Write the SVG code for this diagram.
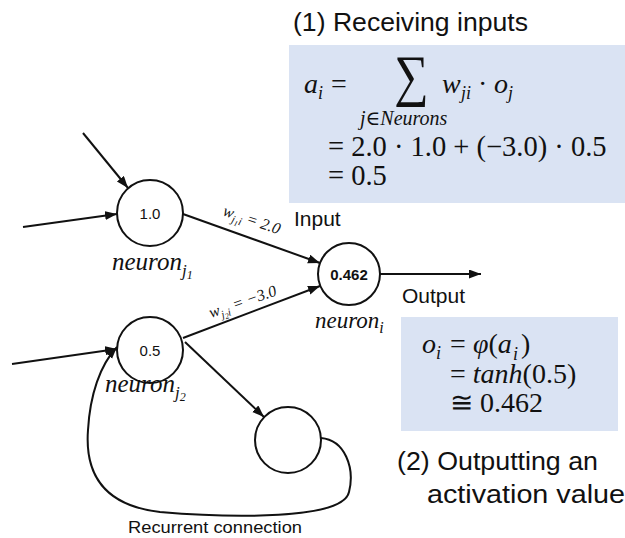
<svg xmlns="http://www.w3.org/2000/svg" width="625" height="538" viewBox="0 0 625 538">
  <style>
    .sans { font-family: "Liberation Sans", Arial, sans-serif; fill: #111; }
    .math { font-family: "Liberation Serif", "DejaVu Serif", serif; fill: #111; }
    .it { font-style: italic; }
    .box { fill: #dae3f3; }
    .node { fill: #fff; stroke: #111; stroke-width: 2; }
    .edge { fill: none; stroke: #111; stroke-width: 2; }
  </style>
  <defs>
    <marker id="arrow" markerUnits="userSpaceOnUse" markerWidth="13" markerHeight="10" refX="12" refY="4.5" orient="auto">
      <path d="M0,0 L12,4.5 L0,9 Z" fill="#111"/>
    </marker>
  </defs>

  <rect width="625" height="538" fill="#fff"/>

  <!-- formula panels -->
  <g id="receiving-panel">
    <rect class="box" x="289" y="45" width="336" height="158"/>
    <text class="sans" x="293" y="31" font-size="25" textLength="235" lengthAdjust="spacingAndGlyphs">(1) Receiving inputs</text>
    <text class="math it" font-size="28" x="304" y="93">a</text>
    <text class="math it" font-size="18" x="318" y="99">i</text>
    <text class="math" font-size="28" x="331" y="93">=</text>
    <text class="math" font-size="44" transform="translate(394,95) scale(1.1,1.3)">∑</text>
    <text class="math it" font-size="28" x="442" y="93">w</text>
    <text class="math it" font-size="18" x="461" y="99">ji</text>
    <text class="math" font-size="28" x="478" y="93">·</text>
    <text class="math it" font-size="28" x="494" y="93">o</text>
    <text class="math it" font-size="18" x="508" y="99">j</text>
    <text class="math it" font-size="20" x="360" y="125">j∈Neurons</text>
    <text class="math" font-size="28.5" x="328" y="156">= 2.0 · 1.0 + (−3.0) · 0.5</text>
    <text class="math" font-size="28.5" x="328" y="185">= 0.5</text>
  </g>

  <g id="output-panel">
    <rect class="box" x="401" y="317" width="217" height="114"/>
    <text class="math it" font-size="28" x="422" y="353">o</text>
    <text class="math it" font-size="18" x="436" y="359">i</text>
    <text class="math" font-size="28" x="450" y="353">=</text>
    <text class="math" font-size="28" x="473" y="353"><tspan class="it">φ</tspan>(<tspan class="it">a</tspan></text>
    <text class="math it" font-size="18" x="513" y="360">i</text>
    <text class="math" font-size="28" x="521" y="353">)</text>
    <text class="math" font-size="28" x="450" y="383"><tspan>= </tspan><tspan class="it">tanh</tspan><tspan>(0.5)</tspan></text>
    <text class="math" font-size="28" x="450" y="412">≅ 0.462</text>
    <text class="sans" x="397" y="470" font-size="25" textLength="201" lengthAdjust="spacingAndGlyphs">(2) Outputting an</text>
    <text class="sans" x="427" y="503" font-size="25" textLength="198" lengthAdjust="spacingAndGlyphs">activation value</text>
  </g>

  <!-- connectors -->
  <g id="connectors">
    <line class="edge" x1="83" y1="133" x2="128" y2="188" marker-end="url(#arrow)"/>
    <line class="edge" x1="23" y1="227" x2="117" y2="214" marker-end="url(#arrow)"/>
    <line class="edge" x1="12" y1="364" x2="117" y2="349" marker-end="url(#arrow)"/>
    <line class="edge" x1="183" y1="214" x2="320" y2="263" marker-end="url(#arrow)"/>
    <line class="edge" x1="183" y1="338" x2="320" y2="286" marker-end="url(#arrow)"/>
    <line class="edge" x1="185" y1="342" x2="264" y2="417" marker-end="url(#arrow)"/>
    <line class="edge" x1="380" y1="274" x2="481" y2="274" marker-end="url(#arrow)"/>
    <path class="edge" d="M321,438 C345,440 355,468 349,492 C343,520 230,518 160,512 C100,505 85,470 88,430 C90,395 100,365 117,347" marker-end="url(#arrow)"/>
    <text class="math it" font-size="16" transform="translate(222,215) rotate(19)">w<tspan font-size="11" dy="4">j</tspan><tspan font-size="8" dy="2">1</tspan><tspan font-size="11" dy="-2">i</tspan><tspan dy="-4"> = 2.0</tspan></text>
    <text class="math it" font-size="16" transform="translate(211,318) rotate(-19)">w<tspan font-size="11" dy="4">j</tspan><tspan font-size="8" dy="2">2</tspan><tspan font-size="11" dy="-2">i</tspan><tspan dy="-4"> = −3.0</tspan></text>
    <text class="sans" x="294" y="226" font-size="21">Input</text>
    <text class="sans" x="402" y="303" font-size="21">Output</text>
    <text class="sans" x="128" y="533" font-size="17" textLength="174" lengthAdjust="spacingAndGlyphs">Recurrent connection</text>
  </g>

  <!-- neurons -->
  <g id="neuron-j1">
    <circle class="node" cx="150" cy="213" r="33"/>
    <text class="sans" x="150" y="219" font-size="15" text-anchor="middle">1.0</text>
    <text class="math it" font-size="25" x="112" y="270">neuron<tspan font-size="17" dy="6">j</tspan><tspan font-size="12" dy="3">1</tspan></text>
  </g>
  <g id="neuron-j2">
    <circle class="node" cx="150" cy="350" r="33"/>
    <text class="sans" x="150" y="356" font-size="15" text-anchor="middle">0.5</text>
    <text class="math it" font-size="25" x="105" y="392">neuron<tspan font-size="17" dy="6">j</tspan><tspan font-size="12" dy="3">2</tspan></text>
  </g>
  <g id="neuron-i">
    <circle class="node" cx="349" cy="274" r="31"/>
    <text class="sans" x="349" y="280" font-size="15" font-weight="bold" text-anchor="middle">0.462</text>
    <text class="math it" font-size="23" x="315" y="328">neuron<tspan font-size="16" dy="5">i</tspan></text>
  </g>
  <g id="neuron-k">
    <circle class="node" cx="288" cy="440" r="33"/>
  </g>
</svg>
